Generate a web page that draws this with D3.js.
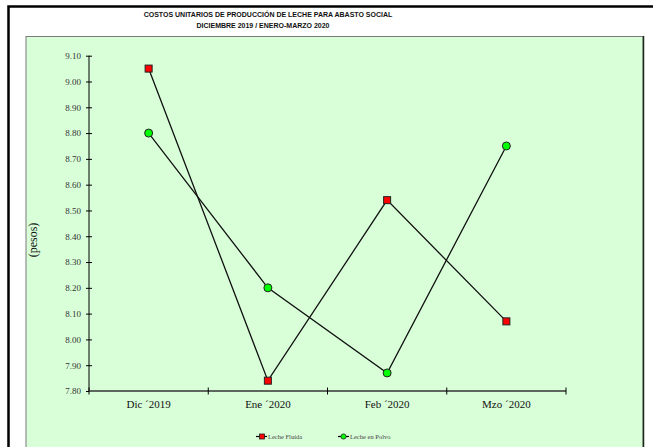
<!DOCTYPE html>
<html>
<head>
<meta charset="utf-8">
<script src="https://cdn.jsdelivr.net/npm/d3@7"></script>
<style>
body { margin:0; background:#fff; }
svg { display:block; }
.ylab text { font-family:"Liberation Serif", serif; font-size:9px; fill:#333; }
.xlab text { font-family:"Liberation Serif", serif; font-size:11px; fill:#111; }
</style>
</head>
<body>
<svg id="chart"></svg>
<script>
// data
var months = ["Dic \u00b42019", "Ene \u00b42020", "Feb \u00b42020", "Mzo \u00b42020"];
var lecheFluida = [9.05, 7.84, 8.54, 8.07];
var lechePolvo = [8.80, 8.20, 7.87, 8.75];
var yTicks = [7.80, 7.90, 8.00, 8.10, 8.20, 8.30, 8.40, 8.50, 8.60, 8.70, 8.80, 8.90, 9.00, 9.10];
var seriesNames = ["Leche Fluida", "Leche en Polvo"];

var screen = {width:653, height:447};
var plot = {left:89, right:566, top:55.7, bottom:391};

var svg = d3.select("#chart")
    .attr("width", screen.width)
    .attr("height", screen.height);

// outer frame
svg.append("rect")
    .attr("x", 8.5).attr("y", 6.5)
    .attr("width", 700).attr("height", 500)
    .attr("fill", "#fff")
    .attr("stroke", "#000")
    .attr("stroke-width", 2.5);

// plot area
svg.append("rect")
    .attr("x", 26).attr("y", 36.5)
    .attr("width", 617).attr("height", 450)
    .attr("fill", "#d9ffd9")
    .attr("stroke", "#7a7a7a")
    .attr("stroke-width", 1);
svg.append("line")
    .attr("x1", 643.5).attr("x2", 643.5)
    .attr("y1", 36).attr("y2", 447)
    .attr("stroke", "#1a2a1a")
    .attr("stroke-width", 1.5);

// titles
var title = svg.append("g")
    .attr("font-family", "Liberation Sans, Arial, sans-serif")
    .attr("font-weight", "bold")
    .attr("font-size", 7)
    .attr("fill", "#111")
    .attr("text-anchor", "middle");
title.append("text")
    .attr("x", 268).attr("y", 16.5)
    .text("COSTOS UNITARIOS DE PRODUCCIÓN DE LECHE PARA ABASTO SOCIAL");
title.append("text")
    .attr("x", 263).attr("y", 28)
    .text("DICIEMBRE 2019 / ENERO-MARZO 2020");

// scales
var x = d3.scaleBand()
    .domain(months)
    .range([plot.left, plot.right]);

var y = d3.scaleLinear()
    .domain([7.80, 9.10])
    .range([plot.bottom, plot.top]);

// y axis
var yAxis = d3.axisLeft(y)
    .tickValues(yTicks)
    .tickFormat(d3.format(".2f"))
    .tickSize(3)
    .tickPadding(5);

var yg = svg.append("g")
    .attr("class", "ylab")
    .attr("transform", "translate(" + plot.left + ",0)")
    .call(yAxis);
yg.select(".domain").remove();
yg.selectAll(".tick line").attr("x1", 3).attr("x2", -3).attr("stroke", "#000");
yg.selectAll(".tick text").attr("fill", null);
yg.attr("font-family", null).attr("font-size", null);
yg.append("line")
    .attr("x1", 0).attr("x2", 0)
    .attr("y1", plot.top).attr("y2", plot.bottom)
    .attr("stroke", "#000")
    .attr("stroke-width", 1);

// x axis
var xAxis = d3.axisBottom(x)
    .tickSize(0)
    .tickPadding(9);

var xg = svg.append("g")
    .attr("class", "xlab")
    .attr("transform", "translate(0," + plot.bottom + ")")
    .call(xAxis);
xg.attr("font-family", null).attr("font-size", null);
xg.selectAll(".tick text").attr("fill", null);
xg.select(".domain").remove();
xg.append("line")
    .attr("x1", plot.left).attr("x2", plot.right)
    .attr("y1", 0).attr("y2", 0)
    .attr("stroke", "#5d675d")
    .attr("stroke-width", 2);
var bounds = months.map(function(m) { return x(m); }).concat([x(months[months.length - 1]) + x.bandwidth()]);
xg.selectAll(".bound")
    .data(bounds)
    .enter()
    .append("line")
    .attr("class", "bound")
    .attr("x1", function(d) { return d; })
    .attr("x2", function(d) { return d; })
    .attr("y1", -3.5).attr("y2", 3.5)
    .attr("stroke", "#000")
    .attr("stroke-width", 1);

// y title
svg.append("text")
    .attr("transform", "translate(37,240) rotate(-90)")
    .attr("text-anchor", "middle")
    .attr("font-family", "Liberation Serif, serif")
    .attr("font-size", 12)
    .attr("fill", "#111")
    .text("(pesos)");

// lines
var line = d3.line()
    .x(function(d, i) { return x(months[i]) + x.bandwidth() / 2; })
    .y(function(d) { return y(d); });

svg.append("path")
    .datum(lecheFluida)
    .attr("d", line)
    .attr("fill", "none")
    .attr("stroke", "#111")
    .attr("stroke-width", 1.3);

svg.append("path")
    .datum(lechePolvo)
    .attr("d", line)
    .attr("fill", "none")
    .attr("stroke", "#111")
    .attr("stroke-width", 1.3);

// markers
svg.selectAll(".sq")
    .data(lecheFluida)
    .enter()
    .append("rect")
    .attr("class", "sq")
    .attr("x", function(d, i) { return x(months[i]) + x.bandwidth() / 2 - 3.5; })
    .attr("y", function(d) { return y(d) - 3.5; })
    .attr("width", 7).attr("height", 7)
    .attr("fill", "#ff0000")
    .attr("stroke", "#222")
    .attr("stroke-width", 1);

svg.selectAll(".ci")
    .data(lechePolvo)
    .enter()
    .append("circle")
    .attr("class", "ci")
    .attr("cx", function(d, i) { return x(months[i]) + x.bandwidth() / 2; })
    .attr("cy", function(d) { return y(d); })
    .attr("r", 4)
    .attr("fill", "#00ff00")
    .attr("stroke", "#222")
    .attr("stroke-width", 1);

// legend
var legend = svg.append("g")
    .attr("transform", "translate(0,436.5)");
var legX = [256, 338];
seriesNames.forEach(function(name, i) {
    var g = legend.append("g").attr("transform", "translate(" + legX[i] + ",0)");
    g.append("line")
        .attr("x1", 0).attr("x2", 11)
        .attr("stroke", "#000").attr("stroke-width", 1.2);
    if (i == 0) {
        g.append("rect")
            .attr("x", 3.5).attr("y", -2.5)
            .attr("width", 5).attr("height", 5)
            .attr("fill", "#ff0000").attr("stroke", "#222").attr("stroke-width", 0.8);
    } else {
        g.append("circle")
            .attr("cx", 5.5).attr("r", 2.6)
            .attr("fill", "#00ff00").attr("stroke", "#222").attr("stroke-width", 0.8);
    }
    g.append("text")
        .attr("x", 12).attr("y", 2)
        .attr("font-family", "Liberation Serif, serif")
        .attr("font-size", 6.5)
        .attr("fill", "#444")
        .text(name);
});
</script>
</body>
</html>
